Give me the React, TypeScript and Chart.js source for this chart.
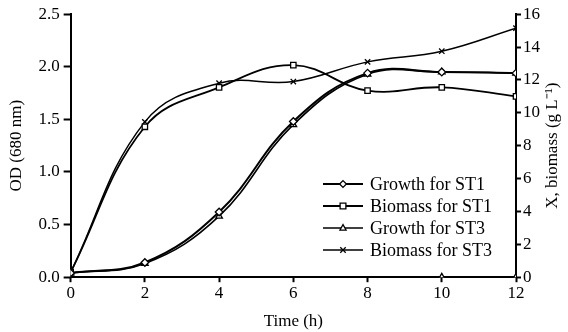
import React, { useEffect, useRef } from 'react';
import { Chart, registerables } from 'chart.js';

Chart.register(...registerables);

const times = [0, 2, 4, 6, 8, 10, 12];
const growthST1 = [0.04, 0.14, 0.62, 1.48, 1.94, 1.95, 1.94];
const biomassST1 = [0.3, 9.15, 11.55, 12.9, 11.35, 11.55, 11.0];
const growthST3 = [0.04, 0.13, 0.58, 1.45, 1.93, 1.95, 1.94];
const biomassST3 = [0.3, 9.45, 11.8, 11.9, 13.1, 13.75, 15.15];
const strayTimes = [10, 12];
const strayValues = [0, 0];

const seriesNames = ['Growth for ST1', 'Biomass for ST1', 'Growth for ST3', 'Biomass for ST3'];
const xTitle = 'Time (h)';
const yTitle = 'OD (680 nm)';
const y1Title = 'X, biomass (g L\u207B\u00B9)';

const FONT = '"Liberation Serif", "Times New Roman", serif';

function pts(xs: number[], ys: number[]) {
  return xs.map((x, i) => ({ x, y: ys[i] }));
}

function drawMarker(ctx: CanvasRenderingContext2D, style: string, x: number, y: number, r: number) {
  ctx.beginPath();
  if (style === 'rectRot') {
    ctx.moveTo(x, y - r);
    ctx.lineTo(x + r, y);
    ctx.lineTo(x, y + r);
    ctx.lineTo(x - r, y);
    ctx.closePath();
    ctx.fill();
    ctx.stroke();
  } else if (style === 'rect') {
    const s = r * 0.85;
    ctx.rect(x - s, y - s, 2 * s, 2 * s);
    ctx.fill();
    ctx.stroke();
  } else if (style === 'triangle') {
    ctx.moveTo(x, y - r);
    ctx.lineTo(x + r * 0.9, y + r * 0.6);
    ctx.lineTo(x - r * 0.9, y + r * 0.6);
    ctx.closePath();
    ctx.fill();
    ctx.stroke();
  } else if (style === 'crossRot') {
    const s = r * 0.8;
    ctx.moveTo(x - s, y - s);
    ctx.lineTo(x + s, y + s);
    ctx.moveTo(x + s, y - s);
    ctx.lineTo(x - s, y + s);
    ctx.stroke();
  }
}

const legendPlugin = {
  id: 'insideLegend',
  afterDraw(chart: any) {
    const ctx = chart.ctx as CanvasRenderingContext2D;
    const startX = 323;
    const startY = 184;
    const rowH = 22;
    ctx.save();
    chart.data.datasets.forEach((ds: any, i: number) => {
      if (ds.hideInLegend) return;
      const y = startY + i * rowH;
      ctx.strokeStyle = '#000';
      ctx.lineWidth = ds.borderWidth;
      ctx.beginPath();
      ctx.moveTo(startX, y);
      ctx.lineTo(startX + 40, y);
      ctx.stroke();
      ctx.fillStyle = '#fff';
      ctx.lineWidth = 1.3;
      drawMarker(ctx, ds.pointStyle, startX + 20, y, 3.4);
      ctx.fillStyle = '#000';
      ctx.font = '18px ' + FONT;
      ctx.textBaseline = 'middle';
      ctx.textAlign = 'left';
      ctx.fillText(ds.label, startX + 47, y + 1);
    });
    ctx.restore();
  },
};

const rightTitlePlugin = {
  id: 'rightTitle',
  afterDraw(chart: any) {
    const ctx = chart.ctx as CanvasRenderingContext2D;
    const area = chart.chartArea;
    ctx.save();
    ctx.translate(553, (area.top + area.bottom) / 2);
    ctx.rotate(-Math.PI / 2);
    ctx.fillStyle = '#000';
    ctx.font = '17px ' + FONT;
    ctx.textAlign = 'center';
    ctx.textBaseline = 'middle';
    ctx.fillText(y1Title, 0, 0);
    ctx.restore();
  },
};

export default function App() {
  const ref = useRef<HTMLCanvasElement>(null);
  useEffect(() => {
    if (!ref.current) return;
    const mk = (label: string, data: any, style: string, axis: string, bw: number) => ({
      label,
      data,
      yAxisID: axis,
      pointStyle: style,
      borderColor: '#000',
      backgroundColor: '#fff',
      pointBackgroundColor: '#fff',
      pointBorderColor: '#000',
      pointBorderWidth: 1.3,
      pointRadius: 3.8,
      borderWidth: bw,
      tension: 0.4,
      fill: false,
    });
    const chart = new Chart(ref.current, {
      type: 'line',
      data: {
        datasets: [
          mk(seriesNames[0], pts(times, growthST1), 'rectRot', 'y', 2),
          mk(seriesNames[1], pts(times, biomassST1), 'rect', 'y1', 1.8),
          mk(seriesNames[2], pts(times, growthST3), 'triangle', 'y', 1.6),
          mk(seriesNames[3], pts(times, biomassST3), 'crossRot', 'y1', 1.5),
          { ...mk('', pts(strayTimes, strayValues), 'triangle', 'y', 1.5), showLine: false, hideInLegend: true } as any,
        ],
      },
      options: {
        animation: false,
        responsive: false,
        maintainAspectRatio: false,
        layout: { padding: { left: 6, right: 26, top: 11, bottom: 0 } },
        plugins: { legend: { display: false }, tooltip: { enabled: false } },
        scales: {
          x: {
            type: 'linear',
            min: 0,
            max: 12,
            ticks: { stepSize: 2, color: '#000', font: { family: FONT, size: 17 }, padding: 1, maxRotation: 0 },
            grid: { drawOnChartArea: false, drawTicks: true, tickLength: 5, tickColor: '#000', tickWidth: 2 },
            border: { color: '#000', width: 2 },
            title: { display: true, text: xTitle, color: '#000', font: { family: FONT, size: 17 }, padding: { top: 7, bottom: 0 } },
          },
          y: {
            type: 'linear',
            position: 'left',
            min: 0,
            max: 2.5,
            ticks: { stepSize: 0.5, color: '#000', font: { family: FONT, size: 17 }, padding: 4, callback: (v: any) => Number(v).toFixed(1) },
            grid: { drawOnChartArea: false, drawTicks: true, tickLength: 7, tickColor: '#000', tickWidth: 2 },
            border: { color: '#000', width: 2 },
            title: { display: true, text: yTitle, color: '#000', font: { family: FONT, size: 17 }, padding: { top: 0, bottom: 8 } },
          },
          y1: {
            type: 'linear',
            position: 'right',
            min: 0,
            max: 16,
            ticks: { stepSize: 2, color: '#000', font: { family: FONT, size: 17 }, padding: 2 },
            grid: { drawOnChartArea: false, drawTicks: true, tickLength: 5, tickColor: '#000', tickWidth: 2 },
            border: { color: '#000', width: 2 },
          },
        },
      },
      plugins: [legendPlugin, rightTitlePlugin],
    });
    return () => chart.destroy();
  }, []);
  return (
    <div style={{ position: 'absolute', left: 0, top: 0, width: 568, height: 332, background: '#fff' }}>
      <canvas ref={ref} width={568} height={332} style={{ width: 568, height: 332 }} />
    </div>
  );
}
